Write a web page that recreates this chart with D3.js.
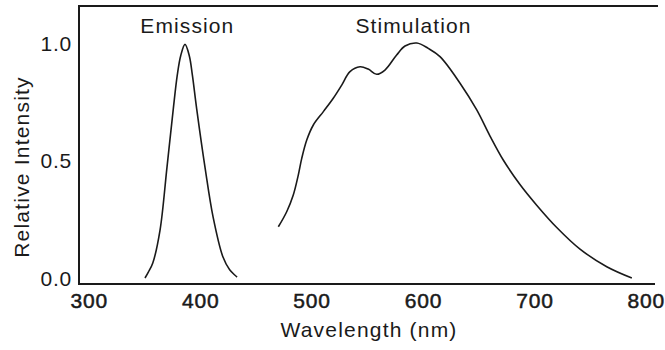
<!DOCTYPE html>
<html><head><meta charset="utf-8">
<script src="https://cdn.jsdelivr.net/npm/d3@7"></script>
<style>body{margin:0;background:#fff}svg{display:block}</style>
</head><body>
<svg id="chart" width="665" height="350"></svg>
<script>
// Emission spectrum
const emissionWl  = [350, 353, 357, 363.5, 369.7, 375.4, 379.0, 382.0, 385.9, 389.8, 392.5, 396.4, 403.9, 411.1, 420, 426, 432.6];
const emissionVal = [0.0, 0.025, 0.064, 0.204, 0.470, 0.720, 0.864, 0.945, 0.994, 0.945, 0.864, 0.720, 0.470, 0.260, 0.089, 0.035, 0.004];
// Stimulation spectrum
const stimWl  = [469.7, 477.2, 483.1, 487.6, 490.7, 495.2, 501.1, 510.1, 519, 526.6, 534, 543, 550.4, 558, 565.4, 575.9, 583.4, 594, 604.3, 614.8, 632.8, 647.8, 659.6, 671.6, 686.6, 701.6, 719.6, 740.5, 764.5, 787];
const stimVal = [0.218, 0.282, 0.353, 0.438, 0.509, 0.587, 0.651, 0.708, 0.765, 0.821, 0.878, 0.899, 0.889, 0.867, 0.885, 0.949, 0.987, 1.0, 0.977, 0.942, 0.829, 0.715, 0.605, 0.502, 0.398, 0.31, 0.215, 0.123, 0.048, 0.0];
// Ticks and labels
const xTicks = [300, 400, 500, 600, 700, 800];
const yTicks = [0.0, 0.5, 1.0];
const yTickLabels = ["0.0", "0.5", "1.0"];
const seriesNames = ["Emission", "Stimulation"];
const seriesLabelWl = [388, 591];
const xTitle = "Wavelength (nm)";
const yTitle = "Relative Intensity";

const svg = d3.select("#chart");
const frame = {left: 79, right: 658, top: 6, bottom: 284};
const x = d3.scaleLinear().domain([300, 800]).range([89.3, 646.3]);
const y = d3.scaleLinear().domain([0, 1]).range([278, 43]);
const font = "'Liberation Sans', Arial, Helvetica, sans-serif";
const ink = "#1a1a1a";

// frame: top, left, bottom (no right side)
svg.append("path")
  .attr("d", `M${frame.right},${frame.top}H${frame.left}V${frame.bottom}H${frame.right - 3}`)
  .attr("fill", "none").attr("stroke", ink).attr("stroke-width", 2);

const line = d3.line().x(d => x(d[0])).y(d => y(d[1])).curve(d3.curveCatmullRom.alpha(0.5));
const series = [d3.zip(emissionWl, emissionVal), d3.zip(stimWl, stimVal)];
svg.selectAll("path.spec").data(series).join("path")
  .attr("class", "spec")
  .attr("d", line)
  .attr("fill", "none").attr("stroke", ink).attr("stroke-width", 1.6);

// x tick labels
svg.selectAll("text.xt").data(xTicks).join("text")
  .attr("class", "xt")
  .attr("x", d => x(d)).attr("y", 308)
  .attr("text-anchor", "middle")
  .attr("font-family", font).attr("font-size", 21)
  .attr("letter-spacing", 0.8)
  .attr("fill", ink).attr("stroke", ink).attr("stroke-width", 0.5)
  .text(d => d);

// y tick labels
svg.selectAll("text.yt").data(yTicks).join("text")
  .attr("class", "yt")
  .attr("x", 72).attr("y", d => y(d) + 7.5)
  .attr("text-anchor", "end")
  .attr("font-family", font).attr("font-size", 21)
  .attr("letter-spacing", 0.8)
  .attr("fill", ink)
  .text((d, i) => yTickLabels[i]);

// series labels
svg.selectAll("text.sl").data(seriesNames).join("text")
  .attr("class", "sl")
  .attr("x", (d, i) => x(seriesLabelWl[i])).attr("y", 33)
  .attr("text-anchor", "middle")
  .attr("font-family", font).attr("font-size", 21)
  .attr("letter-spacing", 1.1)
  .attr("fill", ink)
  .text(d => d);

// axis titles
svg.append("text")
  .attr("x", 369).attr("y", 337)
  .attr("text-anchor", "middle")
  .attr("font-family", font).attr("font-size", 21)
  .attr("letter-spacing", 1.2)
  .attr("fill", ink)
  .text(xTitle);

svg.append("text")
  .attr("transform", "translate(29,167) rotate(-90)")
  .attr("text-anchor", "middle")
  .attr("font-family", font).attr("font-size", 21)
  .attr("letter-spacing", 1.2)
  .attr("fill", ink)
  .text(yTitle);
</script>
</body></html>
